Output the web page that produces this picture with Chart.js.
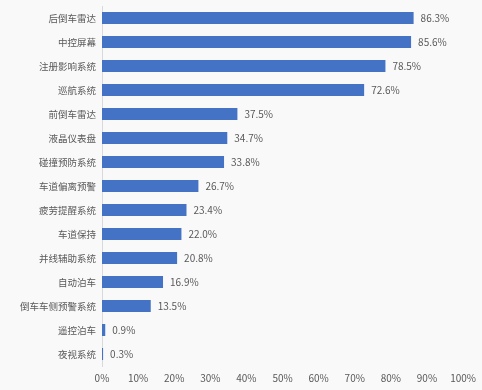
<!DOCTYPE html>
<html>
<head>
<meta charset="utf-8">
<script src="https://cdn.jsdelivr.net/npm/chart.js@4"></script>
<style>
    html, body { margin: 0; padding: 0; background: #f9f9f9; }
    #wrap { width: 482px; height: 390px; }
</style>
</head>
<body>
<div id="wrap"><canvas id="chart" width="482" height="390"></canvas></div>
<script>
// Data
const categories = ['后倒车雷达', '中控屏幕', '注册影响系统', '巡航系统', '前倒车雷达', '液晶仪表盘', '碰撞预防系统',
    '车道偏离预警', '疲劳提醒系统', '车道保持', '并线辅助系统', '自动泊车', '倒车车侧预警系统', '遥控泊车', '夜视系统'];
const shares = [86.3, 85.6, 78.5, 72.6, 37.5, 34.7, 33.8, 26.7, 23.4, 22.0, 20.8, 16.9, 13.5, 0.9, 0.3];
const xTicks = [0, 10, 20, 30, 40, 50, 60, 70, 80, 90, 100];

const FONT = '"Noto Sans CJK SC", "Noto Sans", sans-serif';

// Draw value labels at the end of each bar
const valueLabels = {
    id: 'valueLabels',
    afterDatasetsDraw(chart) {
        const ctx = chart.ctx;
        const meta = chart.getDatasetMeta(0);
        ctx.save();
        ctx.font = '10px ' + FONT;
        ctx.fillStyle = '#595959';
        ctx.textBaseline = 'middle';
        ctx.textAlign = 'left';
        meta.data.forEach((bar, i) => {
            ctx.fillText(shares[i].toFixed(1) + '%', bar.x + 7, bar.y);
        });
        ctx.restore();
    }
};

new Chart(document.getElementById('chart').getContext('2d'), {
    type: 'bar',
    data: {
        labels: categories,
        datasets: [{
            data: shares,
            backgroundColor: '#4472c4',
            borderWidth: 0,
            categoryPercentage: 1,
            barPercentage: 0.5
        }]
    },
    options: {
        indexAxis: 'y',
        responsive: false,
        animation: false,
        layout: { padding: { top: 6, right: 12, bottom: 0, left: 0 } },
        plugins: {
            legend: { display: false },
            tooltip: { enabled: false }
        },
        scales: {
            x: {
                min: 0,
                max: 100,
                afterBuildTicks(axis) {
                    axis.ticks = xTicks.map(v => ({ value: v }));
                },
                grid: { display: false, drawTicks: false },
                border: { display: false },
                ticks: {
                    padding: 6,
                    color: '#595959',
                    font: { family: FONT, size: 10 },
                    callback: v => v + '%'
                }
            },
            y: {
                afterFit(axis) {
                    axis.width = 102;
                    axis.paddingTop = 0;
                },
                grid: { display: false, drawTicks: false },
                border: { display: true, color: '#d9d9d9', width: 1 },
                ticks: {
                    padding: 6,
                    color: '#595959',
                    font: { family: FONT, size: 9.5 }
                }
            }
        }
    },
    plugins: [valueLabels]
});
</script>
</body>
</html>
